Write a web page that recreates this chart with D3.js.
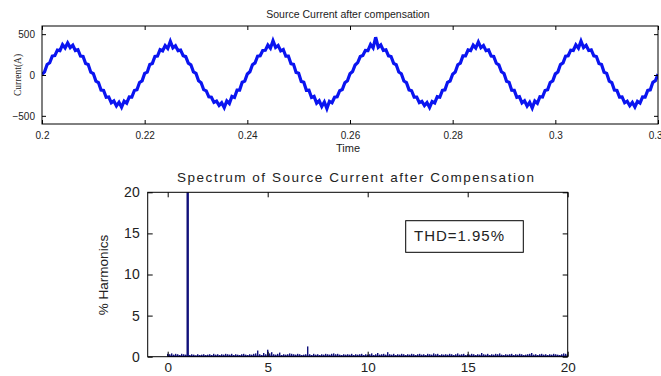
<!DOCTYPE html>
<html>
<head>
<meta charset="utf-8">
<script src="https://cdn.jsdelivr.net/npm/d3@7"></script>
<style>
  body { margin: 0; background: #fff; }
  svg { display: block; font-family: "Liberation Sans", Arial, sans-serif; }
  .axis text { fill: #222; }
  .axis line { stroke: #000; }
</style>
</head>
<body>
<div id="chart"></div>
<script>
// ---- data ----
// source current, sampled every 0.5 ms from t = 0.2 s (read off the trace)
let timeStart = 0.2;
let timeStep = 0.0005;
let currentValues = [
  8, 38, 128, 150, 232, 238, 305, 298, 372, 330, 392, 335, 365, 300, 310, 232, 228, 140, 128, 35,
  18, -75, -92, -185, -190, -272, -268, -340, -318, -378, -335, -395, -320, -345, -268, -270, -190, -180, -92, -72,
  20, 35, 130, 142, 228, 232, 310, 296, 360, 325, 412, 332, 358, 298, 305, 236, 225, 145, 125, 38,
  20, -72, -95, -180, -195, -268, -272, -335, -320, -372, -340, -400, -318, -350, -262, -275, -185, -185, -88, -75,
  12, 40, 125, 148, 230, 236, 300, 302, 368, 328, 420, 338, 362, 296, 312, 230, 230, 138, 130, 32,
  22, -78, -88, -188, -186, -275, -262, -345, -315, -385, -330, -412, -322, -340, -272, -266, -192, -178, -95, -70,
  15, 42, 122, 152, 226, 240, 302, 300, 375, 332, 462, 340, 368, 302, 308, 234, 226, 142, 126, 36,
  16, -74, -94, -182, -192, -270, -270, -338, -322, -375, -338, -398, -325, -342, -265, -272, -188, -182, -90, -74,
  10, 36, 126, 146, 234, 234, 306, 298, 366, 330, 405, 334, 360, 298, 306, 232, 228, 144, 124, 40,
  18, -76, -90, -186, -188, -274, -266, -342, -316, -380, -334, -405, -318, -346, -266, -270, -190, -180, -92, -72,
  14, 38, 128, 148, 230, 236, 304, 300, 370, 328, 415, 336, 364, 300, 308, 234, 226, 140, 128, 34,
  20, -74, -92, -184, -190, -270, -268, -340, -320, -376, -336, -392, -322, -344, -268, -270, -188, -182, -90, -70,
  10
];
let timeTicks = [0.2, 0.22, 0.24, 0.26, 0.28, 0.3, 0.32];
let currentTicks = [-500, 0, 500];

// harmonic spectrum, % of fundamental, every 0.1 harmonic order from 0 to 20
let harmonicStep = 0.1;
let harmonicValues = [
  0.35, 0.3, 0.4, 0.25, 0.35, 0.3, 0.2, 0.35, 0.3, 0.25,
  100, 0.2, 0.3, 0.25, 0.15, 0.3, 0.2, 0.25, 0.3, 0.2,
  0.25, 0.3, 0.2, 0.35, 0.25, 0.3, 0.2, 0.3, 0.25, 0.35,
  0.3, 0.25, 0.35, 0.2, 0.3, 0.25, 0.2, 0.3, 0.35, 0.25,
  0.2, 0.3, 0.25, 0.35, 0.4, 0.75, 0.3, 0.2, 0.45, 0.3,
  0.85, 0.4, 0.55, 0.3, 0.25, 0.35, 0.5, 0.2, 0.3, 0.25,
  0.3, 0.4, 0.35, 0.3, 0.25, 0.35, 0.3, 0.2, 0.25, 0.3,
  1.25, 0.3, 0.2, 0.35, 0.25, 0.3, 0.2, 0.3, 0.25, 0.35,
  0.3, 0.25, 0.35, 0.4, 0.3, 0.35, 0.25, 0.2, 0.3, 0.25,
  0.3, 0.25, 0.35, 0.2, 0.3, 0.25, 0.3, 0.35, 0.2, 0.3,
  0.25, 0.3, 0.4, 0.2, 0.3, 0.45, 0.25, 0.3, 0.35, 0.25,
  0.55, 0.3, 0.25, 0.35, 0.2, 0.3, 0.25, 0.35, 0.3, 0.2,
  0.3, 0.25, 0.35, 0.3, 0.2, 0.3, 0.35, 0.25, 0.3, 0.2,
  0.35, 0.3, 0.25, 0.4, 0.3, 0.35, 0.2, 0.3, 0.25, 0.3,
  0.25, 0.35, 0.3, 0.2, 0.3, 0.4, 0.25, 0.3, 0.35, 0.2,
  0.3, 0.25, 0.35, 0.3, 0.2, 0.3, 0.25, 0.45, 0.3, 0.25,
  0.35, 0.2, 0.3, 0.25, 0.35, 0.3, 0.4, 0.25, 0.2, 0.3,
  0.25, 0.3, 0.35, 0.2, 0.3, 0.25, 0.35, 0.3, 0.2, 0.25,
  0.3, 0.35, 0.45, 0.25, 0.3, 0.2, 0.3, 0.35, 0.25, 0.3,
  0.2, 0.3, 0.25, 0.35, 0.3, 0.25, 0.2, 0.3, 0.4, 0.35,
  0.3
];
let harmonicTicks = [0, 5, 10, 15, 20];
let percentTicks = [0, 5, 10, 15, 20];
let thdLabel = "THD=1.95%";

let w = 661, h = 376;

let svg = d3.select("#chart")
  .append("svg")
  .attr("width", w)
  .attr("height", h);

// ================= top panel: time waveform =================
let upBox = { left: 42, right: 658, top: 26, bottom: 124 };

let xTime = d3.scaleLinear().domain([0.2, 0.32]).range([upBox.left, upBox.right]);
let yCur = d3.scaleLinear().domain([-600, 600]).range([upBox.bottom, upBox.top]);

let wave = currentValues.map((v, i) => ({ t: timeStart + i * timeStep, v: v }));

svg.append("clipPath").attr("id", "clipTop")
  .append("rect")
  .attr("x", upBox.left).attr("y", upBox.top)
  .attr("width", upBox.right - upBox.left).attr("height", upBox.bottom - upBox.top);

let line = d3.line()
  .x(d => xTime(d.t))
  .y(d => yCur(d.v));

// thick stroke so the noisy trace reads as a band like the scope capture
svg.append("path")
  .datum(wave)
  .attr("clip-path", "url(#clipTop)")
  .attr("d", line)
  .attr("fill", "none")
  .attr("stroke", "#0a14f0")
  .attr("stroke-width", 3.2)
  .attr("stroke-linejoin", "miter");

// axes, ticks pointing in (matlab style)
let fmtTime = d3.format("~g");
svg.append("g").attr("class", "axis")
  .attr("transform", "translate(0," + upBox.bottom + ")")
  .call(d3.axisBottom(xTime).tickValues(timeTicks).tickSizeInner(-4).tickSizeOuter(0).tickPadding(8).tickFormat(fmtTime))
  .call(g => g.select(".domain").remove())
  .selectAll("text").attr("font-size", 10);

svg.append("g").attr("class", "axis")
  .attr("transform", "translate(0," + upBox.top + ")")
  .call(d3.axisTop(xTime).tickValues(timeTicks).tickSizeInner(-4).tickSizeOuter(0).tickFormat(""))
  .call(g => g.select(".domain").remove());

svg.append("g").attr("class", "axis")
  .attr("transform", "translate(" + upBox.left + ",0)")
  .call(d3.axisLeft(yCur).tickValues(currentTicks).tickSizeInner(-4).tickSizeOuter(0).tickPadding(7))
  .call(g => g.select(".domain").remove())
  .selectAll("text").attr("font-size", 10);

svg.append("g").attr("class", "axis")
  .attr("transform", "translate(" + upBox.right + ",0)")
  .call(d3.axisRight(yCur).tickValues(currentTicks).tickSizeInner(-4).tickSizeOuter(0).tickFormat(""))
  .call(g => g.select(".domain").remove());

svg.append("rect")
  .attr("x", upBox.left).attr("y", upBox.top)
  .attr("width", upBox.right - upBox.left).attr("height", upBox.bottom - upBox.top)
  .attr("fill", "none").attr("stroke", "#000").attr("stroke-width", 1);

svg.append("text")
  .attr("x", 348).attr("y", 18)
  .attr("text-anchor", "middle")
  .attr("font-size", 10.5)
  .attr("fill", "#222")
  .text("Source Current after compensation");

svg.append("text")
  .attr("x", 348).attr("y", 152)
  .attr("text-anchor", "middle")
  .attr("font-size", 11)
  .attr("fill", "#222")
  .text("Time");

svg.append("text")
  .attr("transform", "translate(21,75) rotate(-90)")
  .attr("text-anchor", "middle")
  .attr("font-family", "'Liberation Serif', 'Times New Roman', serif")
  .attr("font-size", 9.5)
  .attr("fill", "#222")
  .text("Current(A)");

// ================= bottom panel: spectrum =================
let lowBox = { left: 147.7, right: 567.7, top: 192.3, bottom: 356.7 };

let xHarm = d3.scaleLinear().domain([-1, 20]).range([lowBox.left, lowBox.right]);
let yPct = d3.scaleLinear().domain([0, 20]).range([lowBox.bottom, lowBox.top]);

let spectrum = harmonicValues.map((v, i) => ({ n: i * harmonicStep, v: v }));

svg.append("clipPath").attr("id", "clipBot")
  .append("rect")
  .attr("x", lowBox.left).attr("y", lowBox.top)
  .attr("width", lowBox.right - lowBox.left).attr("height", lowBox.bottom - lowBox.top);

let navy = "#10107a";

svg.append("g")
  .attr("clip-path", "url(#clipBot)")
  .selectAll("rect")
  .data(spectrum)
  .join("rect")
  .attr("x", d => xHarm(d.n) - (d.v > 5 ? 1.2 : 0.7))
  .attr("width", d => d.v > 5 ? 2.4 : 1.4)
  .attr("y", d => yPct(d.v))
  .attr("height", d => yPct(0) - yPct(d.v))
  .attr("fill", navy);

// bar baseline
svg.append("line")
  .attr("x1", xHarm(0)).attr("x2", xHarm(20))
  .attr("y1", yPct(0) - 0.5).attr("y2", yPct(0) - 0.5)
  .attr("stroke", navy).attr("stroke-width", 1.5);

svg.append("g").attr("class", "axis")
  .attr("transform", "translate(0," + lowBox.bottom + ")")
  .call(d3.axisBottom(xHarm).tickValues(harmonicTicks).tickSizeInner(-5).tickSizeOuter(0).tickPadding(6))
  .call(g => g.select(".domain").remove())
  .selectAll("text").attr("font-size", 13.5);

svg.append("g").attr("class", "axis")
  .attr("transform", "translate(0," + lowBox.top + ")")
  .call(d3.axisTop(xHarm).tickValues(harmonicTicks).tickSizeInner(-5).tickSizeOuter(0).tickFormat(""))
  .call(g => g.select(".domain").remove());

svg.append("g").attr("class", "axis")
  .attr("transform", "translate(" + lowBox.left + ",0)")
  .call(d3.axisLeft(yPct).tickValues(percentTicks).tickSizeInner(-5).tickSizeOuter(0).tickPadding(8))
  .call(g => g.select(".domain").remove())
  .selectAll("text").attr("font-size", 14);

svg.append("g").attr("class", "axis")
  .attr("transform", "translate(" + lowBox.right + ",0)")
  .call(d3.axisRight(yPct).tickValues(percentTicks).tickSizeInner(-5).tickSizeOuter(0).tickFormat(""))
  .call(g => g.select(".domain").remove());

svg.append("rect")
  .attr("x", lowBox.left).attr("y", lowBox.top)
  .attr("width", lowBox.right - lowBox.left).attr("height", lowBox.bottom - lowBox.top)
  .attr("fill", "none").attr("stroke", "#000").attr("stroke-width", 1);

svg.append("text")
  .attr("x", 177).attr("y", 181.5)
  .attr("font-size", 13.5)
  .attr("fill", "#222")
  .attr("textLength", 357)
  .attr("lengthAdjust", "spacing")
  .text("Spectrum of Source Current after Compensation");

svg.append("text")
  .attr("transform", "translate(108,275) rotate(-90)")
  .attr("text-anchor", "middle")
  .attr("font-size", 13.5)
  .attr("fill", "#222")
  .text("% Harmonics");

// THD annotation box
svg.append("rect")
  .attr("x", 405.7).attr("y", 220.7)
  .attr("width", 117.6).attr("height", 31.6)
  .attr("fill", "#fff").attr("stroke", "#000").attr("stroke-width", 1);

svg.append("text")
  .attr("x", 414).attr("y", 240.5)
  .attr("font-size", 15)
  .attr("fill", "#222")
  .attr("textLength", 90)
  .attr("lengthAdjust", "spacing")
  .text(thdLabel);
</script>
</body>
</html>
